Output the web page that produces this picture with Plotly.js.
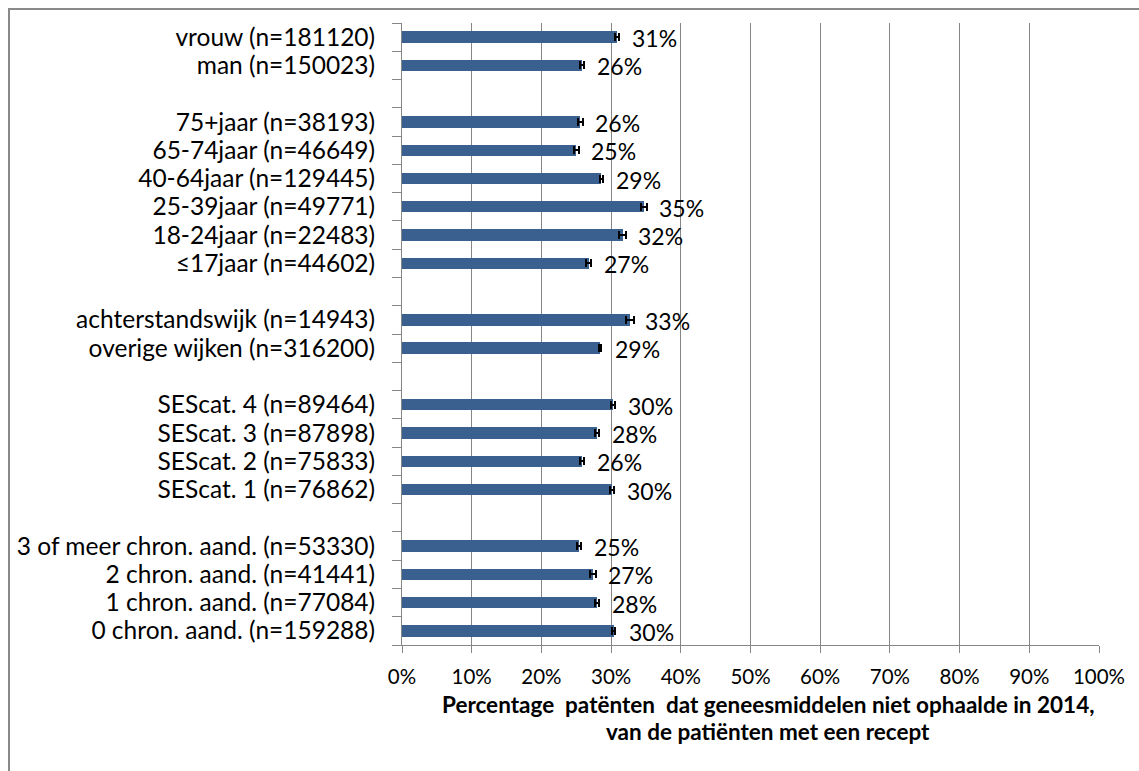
<!DOCTYPE html>
<html>
<head>
<meta charset="utf-8">
<script src="https://cdn.plot.ly/plotly-3.0.1.min.js"></script>
<style>html,body{margin:0;padding:0;background:#fff;}#chart{width:1139px;height:771px;}</style>
</head>
<body>
<div id="chart"></div>
<script>
// Categories from top to bottom; "" marks an empty separator row
const categories = [
  "vrouw (n=181120)", "man (n=150023)", "",
  "75+jaar (n=38193)", "65-74jaar (n=46649)", "40-64jaar (n=129445)", "25-39jaar (n=49771)", "18-24jaar (n=22483)", "≤17jaar (n=44602)", "",
  "achterstandswijk (n=14943)", "overige wijken (n=316200)", "",
  "SEScat. 4 (n=89464)", "SEScat. 3 (n=87898)", "SEScat. 2 (n=75833)", "SEScat. 1 (n=76862)", "",
  "3 of meer chron. aand. (n=53330)", "2 chron. aand. (n=41441)", "1 chron. aand. (n=77084)", "0 chron. aand. (n=159288)"
];
// Percentage not collected (estimated from bar ends)
const values = [
  30.9, 25.8, null,
  25.6, 25.0, 28.6, 34.7, 31.7, 26.8, null,
  32.7, 28.4, null,
  30.3, 28.0, 25.8, 30.1, null,
  25.4, 27.4, 28.0, 30.4
];
// Error (half-width of 95% CI, estimated)
const errors = [
  0.3, 0.3, null,
  0.4, 0.35, 0.25, 0.4, 0.5, 0.35, null,
  0.6, 0.15, null,
  0.3, 0.3, 0.3, 0.3, null,
  0.35, 0.4, 0.3, 0.2
];
// Data labels as printed
const dataLabels = [
  "31%", "26%", "",
  "26%", "25%", "29%", "35%", "32%", "27%", "",
  "33%", "29%", "",
  "30%", "28%", "26%", "30%", "",
  "25%", "27%", "28%", "30%"
];
const xTickVals = [0, 10, 20, 30, 40, 50, 60, 70, 80, 90, 100];
const xTickText = ["0%", "10%", "20%", "30%", "40%", "50%", "60%", "70%", "80%", "90%", "100%"];
const xTitleLines = [
  "<b>Percentage \u00a0patënten \u00a0dat geneesmiddelen niet ophaalde in 2014,</b>",
  "<b>van de patiënten met een recept</b>"
];

const FONT = "Lato, 'Liberation Sans', sans-serif";
const GRID = "#868686";
const idx = categories.map((c, i) => i);
const boundaries = [];
for (let i = 0; i <= categories.length; i++) boundaries.push(i - 0.5);

const annotations = [];
values.forEach((v, i) => {
  if (v === null) return;
  annotations.push({
    x: v, y: i, xref: "x", yref: "y", text: dataLabels[i], showarrow: false,
    xanchor: "left", yanchor: "middle", xshift: 13, yshift: -1,
    font: {family: FONT, size: 23, color: "#000"}
  });
});
[-0.095, -0.1383].forEach((yy, k) => {
  annotations.push({
    x: 0.525, y: yy, xref: "paper", yref: "paper", text: xTitleLines[k], showarrow: false,
    xanchor: "center", yanchor: "middle", align: "center", borderpad: 0,
    font: {family: FONT, size: 22.5, color: "#000"}
  });
});

const trace = {
  type: "bar", orientation: "h",
  x: values, y: idx,
  width: 0.4,
  marker: {color: "#3A6090"},
  error_x: {type: "data", array: errors, visible: true, color: "#000", thickness: 2, width: 4},
  hoverinfo: "x+y"
};

const layout = {
  width: 1139, height: 771,
  margin: {l: 402, r: 40, t: 23, b: 126, pad: 0},
  paper_bgcolor: "#fff", plot_bgcolor: "#fff",
  showlegend: false,
  font: {family: FONT, size: 22, color: "#000"},
  xaxis: {
    range: [0, 100], tickvals: xTickVals, ticktext: xTickText,
    showgrid: true, gridcolor: GRID, gridwidth: 1,
    zeroline: false, showline: true, linecolor: GRID, linewidth: 1,
    ticks: "outside", ticklen: 7, tickcolor: GRID, tickwidth: 1,
    ticklabelstandoff: 6,
    tickfont: {family: FONT, size: 20.5, color: "#000"}
  },
  yaxis: {
    range: [categories.length - 0.5, -0.5],
    tickvals: idx, ticktext: categories,
    ticks: "", showgrid: false, zeroline: false,
    showline: true, linecolor: GRID, linewidth: 1,
    ticklabelstandoff: 21,
    tickfont: {family: FONT, size: 24.5, color: "#000"},
    minor: {tickmode: "array", tickvals: boundaries, ticks: "outside", ticklen: 9, tickcolor: GRID, tickwidth: 1, showgrid: false}
  },
  annotations: annotations,
  shapes: [{
    type: "rect", xref: "paper", yref: "paper",
    x0: (9 - 402) / 697, x1: 1.2, y0: -0.4, y1: (645 - 9) / 622,
    line: {color: "#898989", width: 2}, fillcolor: "rgba(0,0,0,0)", layer: "below"
  }],
  bargap: 0
};

Plotly.newPlot("chart", [trace], layout, {staticPlot: true, displayModeBar: false});
</script>
</body>
</html>
